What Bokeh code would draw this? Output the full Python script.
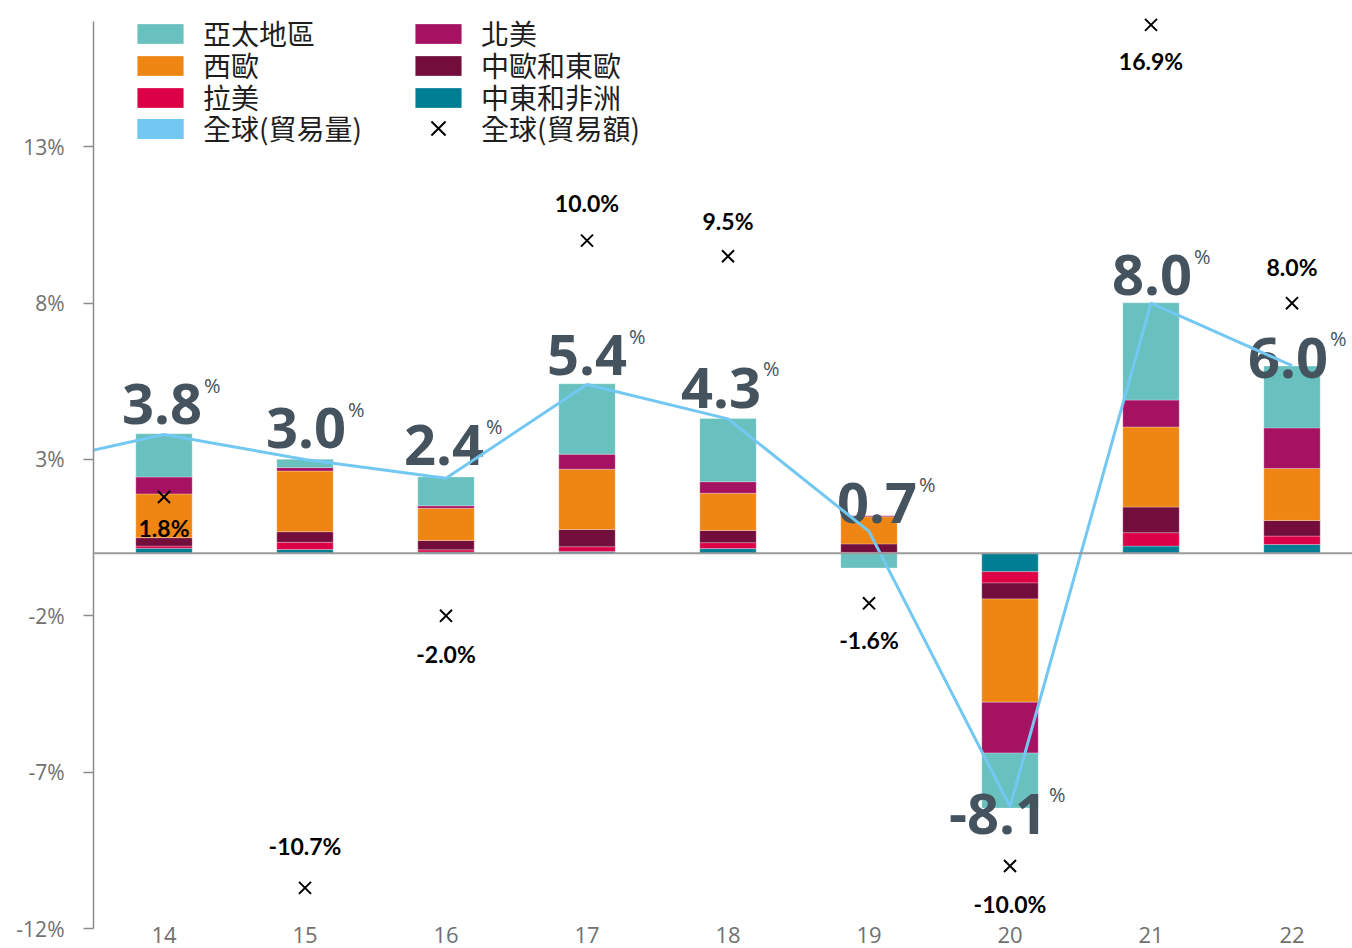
import numpy as np
from bokeh.plotting import figure
from bokeh.models import (ColumnDataSource, FixedTicker, Span, Legend, LegendItem,
                          PrintfTickFormatter, Range1d)
from bokeh.core.properties import value
from bokeh.embed import file_html
from bokeh.resources import INLINE

# ---------------- data ----------------
years = [14, 15, 16, 17, 18, 19, 20, 21, 22]
year_labels = ["14", "15", "16", "17", "18", "19", "20", "21", "22"]

# contribution to global trade volume growth (percentage points), stacked bottom -> top
mea = [0.16, 0.12, 0.04, 0.06, 0.15, 0.00, -0.59, 0.23, 0.28]      # 中東和非洲
latam = [0.07, 0.23, 0.07, 0.15, 0.19, 0.03, -0.36, 0.43, 0.27]    # 拉美
cee = [0.27, 0.34, 0.30, 0.55, 0.39, 0.27, -0.51, 0.82, 0.50]      # 中歐和東歐
weu = [1.40, 1.94, 1.03, 1.93, 1.19, 0.87, -3.30, 2.56, 1.66]      # 西歐
nam = [0.54, 0.11, 0.08, 0.48, 0.37, 0.03, -1.63, 0.86, 1.30]      # 北美
apac = [1.38, 0.27, 0.92, 2.25, 2.02, -0.47, -1.76, 3.11, 1.98]    # 亞太地區

volume_years = [13, 14, 15, 16, 17, 18, 19, 20, 21, 22]
volume = [2.8, 3.8, 3.0, 2.4, 5.4, 4.3, 0.7, -8.1, 8.0, 6.0]       # 全球(貿易量)
trade_value = [1.8, -10.7, -2.0, 10.0, 9.5, -1.6, -10.0, 16.9, 8.0]  # 全球(貿易額)

y_ticks = [-12, -7, -2, 3, 8, 13]

# ---------------- layout / style ----------------
region_defs = [
    ("中東和非洲", mea, "#007e94"),
    ("拉美", latam, "#dc0046"),
    ("中歐和東歐", cee, "#730e3c"),
    ("西歐", weu, "#ef8614"),
    ("北美", nam, "#a51262"),
    ("亞太地區", apac, "#68c1be"),
]
LINE_COLOR = "#72c8f2"
NUM_COLOR = "#44535e"

# label offsets (screen px)
big_x_off = [38, 41, 38, 40, 33, 48, 37, 41, 36]
big_y_off = [-30, -31, -33, -29, -31, -28, 7, -28, -8]
val_y_off = [31, -42, 38, -38, -35, 37, 38, 36, -36]

p = figure(width=1352, height=948,
           x_range=Range1d(13.5, 22.429), y_range=Range1d(-12, 17.2),
           output_backend="svg", toolbar_location=None,
           min_border_left=93, min_border_right=0,
           min_border_top=15, min_border_bottom=20)
p.outline_line_color = None
p.grid.visible = False

pos = np.zeros(len(years))
neg = np.zeros(len(years))
rend = {}
for name, vals, color in region_defs:
    v = np.array(vals, dtype=float)
    bottom = np.where(v >= 0, pos, neg)
    top = bottom + v
    pos = np.where(v >= 0, top, pos)
    neg = np.where(v < 0, top, neg)
    src = ColumnDataSource(dict(x=years, bottom=bottom, top=top))
    rend[name] = p.vbar(x="x", bottom="bottom", top="top", width=0.4, source=src,
                        fill_color=color, line_color="white", line_width=0.6, line_alpha=0.45)

p.add_layout(Span(location=0, dimension="width", line_color="#9a9a9a", line_width=2))

# big volume labels
big_src = ColumnDataSource(dict(
    x=years, y=volume[1:], text=[f"{v:.1f}" for v in volume[1:]],
    xo=big_x_off, yo=big_y_off,
    pxo=[o + 2 for o in big_x_off], pyo=[o - 19 for o in big_y_off],
))
p.text(x="x", y="y", text="text", source=big_src, x_offset="xo", y_offset="yo",
       text_font=value("Open Sans"), text_font_style="bold", text_font_size="56px",
       text_color=NUM_COLOR, text_align="right", text_baseline="middle")
p.text(x="x", y="y", text=value("%"), source=big_src, x_offset="pxo", y_offset="pyo",
       text_font=value("Open Sans"), text_font_size="20px",
       text_color=NUM_COLOR, text_align="left", text_baseline="middle")

# volume line
vol_line = p.line(volume_years, volume, line_color=LINE_COLOR, line_width=3)

# trade value markers and labels
val_src = ColumnDataSource(dict(x=years, y=trade_value,
                                text=[f"{v:.1f}%" for v in trade_value], yo=val_y_off))
val_r = p.scatter(x="x", y="y", source=val_src, marker="x", size=17,
                  line_color="black", line_width=2)
p.text(x="x", y="y", text="text", source=val_src, y_offset="yo",
       text_font=value("Lato"), text_font_style="bold", text_font_size="23px",
       text_color="black", text_align="center", text_baseline="middle")

# legend proxy for the line shown as a swatch
vol_proxy = p.vbar(x=[14], bottom=[0], top=[0], width=0.4, fill_color=LINE_COLOR, line_color=None)

# ---------------- legend (one row per Legend for exact row pitch) ----------------
common = dict(orientation="horizontal", label_standoff=14, label_width=206,
              label_text_font="Noto Sans CJK TC", label_text_font_size="28px",
              label_text_color="#1e1e1e", spacing=0, padding=0, margin=0,
              border_line_color=None, background_fill_alpha=0, glyph_width=58)

legend_rows = [
    ([("亞太地區", rend["亞太地區"]), ("北美", rend["北美"])], 38, 875, 25),
    ([("西歐", rend["西歐"]), ("中歐和東歐", rend["中歐和東歐"])], 38, 843, 25),
    ([("拉美", rend["拉美"]), ("中東和非洲", rend["中東和非洲"])], 38, 811, 25),
    ([("全球(貿易量)", vol_proxy)], 38, 780, 25),
    ([("全球(貿易額)", val_r)], 316, 775, 50),
]
for entries, lx, ly, gh in legend_rows:
    lg = Legend(items=[LegendItem(label=t, renderers=[r]) for t, r in entries],
                location=(lx, ly), glyph_height=gh, **common)
    p.add_layout(lg)

# axes
p.yaxis.ticker = FixedTicker(ticks=y_ticks)
p.yaxis.formatter = PrintfTickFormatter(format="%d%%")
p.yaxis.bounds = (-12, 17)
p.yaxis.axis_line_color = "#8c8c8c"
p.yaxis.axis_line_width = 1.5
p.yaxis.major_tick_line_color = "#8c8c8c"
p.yaxis.major_tick_line_width = 1.5
p.yaxis.major_tick_out = 10
p.yaxis.major_tick_in = 0
p.yaxis.minor_tick_line_color = None
p.yaxis.major_label_text_font = "Open Sans"
p.yaxis.major_label_text_font_size = "21px"
p.yaxis.major_label_text_color = "#707070"
p.yaxis.major_label_standoff = 19

p.xaxis.ticker = FixedTicker(ticks=years)
p.xaxis.major_label_overrides = {y: l for y, l in zip(years, year_labels)}
p.xaxis.axis_line_color = None
p.xaxis.major_tick_line_color = None
p.xaxis.minor_tick_line_color = None
p.xaxis.major_tick_out = 0
p.xaxis.major_label_text_font = "Open Sans"
p.xaxis.major_label_text_font_size = "22px"
p.xaxis.major_label_text_color = "#707070"
p.xaxis.major_label_standoff = -2

open("out.html", "w").write(file_html(p, INLINE))
